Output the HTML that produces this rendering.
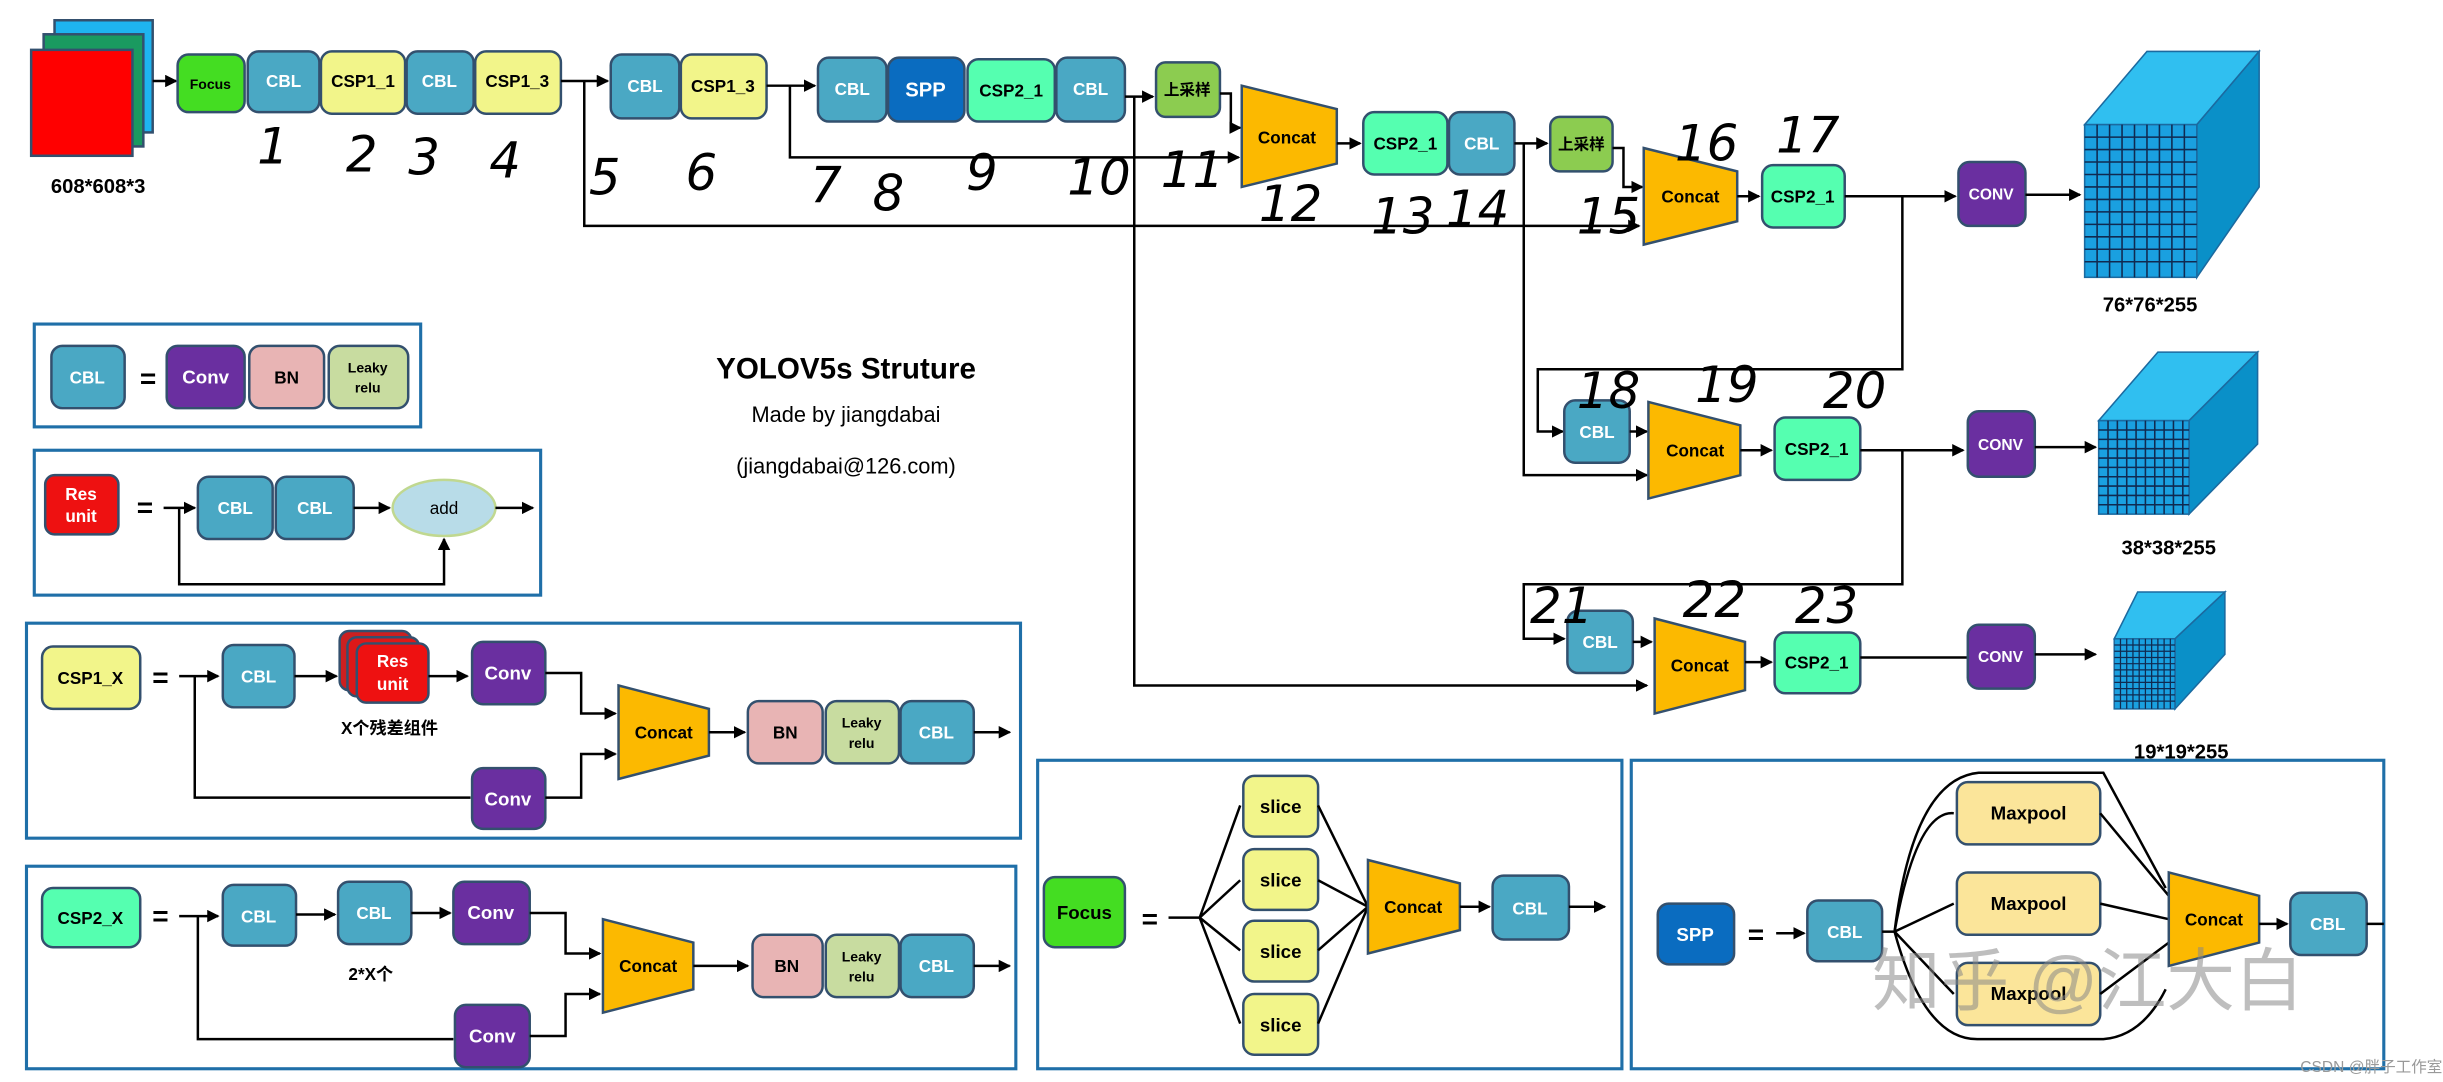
<!DOCTYPE html>
<html><head><meta charset="utf-8"><style>
html,body{margin:0;padding:0;background:#fff}
svg{display:block}
text{font-family:"Liberation Sans","Noto Sans CJK SC",sans-serif}
.bo text{font-weight:bold}
.n{font-weight:normal !important}
.b{stroke:#33506e;stroke-width:1.6}
.l{stroke:#000;stroke-width:1.6;fill:none}
.hw text{font-family:"DejaVu Sans","Liberation Sans",sans-serif;font-style:italic;font-weight:normal;fill:#000;font-size:32px}
</style></head><body>
<svg width="2443" height="1082" viewBox="0 0 1568 694.5" preserveAspectRatio="none" xmlns="http://www.w3.org/2000/svg">
<defs><marker id="a" markerWidth="8" markerHeight="8" refX="7" refY="4" orient="auto" markerUnits="userSpaceOnUse"><path d="M0,0 L8,4 L0,8 z" fill="#000"/></marker></defs>
<g font-size="11" text-anchor="middle" class="bo">
<rect x="35" y="13" width="63" height="72" fill="#1eb4f0" class="b"/>
<rect x="28" y="22" width="64" height="72" fill="#1a9a60" class="b"/>
<rect x="20" y="32" width="65" height="68" fill="#ff0000" class="b"/>
<text x="63" y="124" font-size="13">608*608*3</text>
<path class="l" d="M98,52 H113" marker-end="url(#a)"/>
<rect x="114" y="35" width="43" height="37" rx="7" fill="#44dd22" class="b"/><text x="135" y="57" font-size="9">Focus</text>
<rect x="159" y="33" width="46" height="39" rx="7" fill="#4aa8c4" class="b"/><text x="182" y="56" fill="#fff">CBL</text>
<rect x="206" y="33" width="54" height="40" rx="7" fill="#f2f58a" class="b"/><text x="233" y="56">CSP1_1</text>
<rect x="261" y="33" width="43" height="40" rx="7" fill="#4aa8c4" class="b"/><text x="282" y="56" fill="#fff">CBL</text>
<rect x="305" y="33" width="55" height="40" rx="7" fill="#f2f58a" class="b"/><text x="332" y="56">CSP1_3</text>
<path class="l" d="M360,52 H390" marker-end="url(#a)"/>
<path class="l" d="M375,52 V145 H1052" marker-end="url(#a)"/>
<rect x="392" y="35" width="44" height="41" rx="7" fill="#4aa8c4" class="b"/><text x="414" y="59" fill="#fff">CBL</text>
<rect x="437" y="35" width="55" height="41" rx="7" fill="#f2f58a" class="b"/><text x="464" y="59">CSP1_3</text>
<path class="l" d="M492,55 H523" marker-end="url(#a)"/>
<path class="l" d="M507,55 V101 H795" marker-end="url(#a)"/>
<rect x="525" y="37" width="44" height="41" rx="7" fill="#4aa8c4" class="b"/><text x="547" y="61" fill="#fff">CBL</text>
<rect x="570" y="37" width="49" height="41" rx="7" fill="#0a6cc0" class="b"/><text x="594" y="62" fill="#fff" font-size="13">SPP</text>
<rect x="621" y="38" width="56" height="40" rx="7" fill="#55ffb0" class="b"/><text x="649" y="62">CSP2_1</text>
<rect x="678" y="37" width="44" height="41" rx="7" fill="#4aa8c4" class="b"/><text x="700" y="61" fill="#fff">CBL</text>
<path class="l" d="M722,62 H740" marker-end="url(#a)"/>
<path class="l" d="M728,62 V440 H1057" marker-end="url(#a)"/>
<rect x="742" y="40" width="41" height="35" rx="6" fill="#8ccc50" class="b"/><text x="762" y="61" font-size="10">上采样</text>
<path class="l" d="M783,60 H790 V82 H796" marker-end="url(#a)"/>
<path d="M797,55 L858,70 L858,105 L797,120 Z" fill="#fcb900" class="b"/><text x="826" y="92" font-size="11">Concat</text>
<path class="l" d="M858,92 H873" marker-end="url(#a)"/>
<rect x="875" y="72" width="54" height="40" rx="7" fill="#55ffb0" class="b"/><text x="902" y="96">CSP2_1</text>
<rect x="930" y="72" width="42" height="40" rx="7" fill="#4aa8c4" class="b"/><text x="951" y="96" fill="#fff">CBL</text>
<path class="l" d="M972,92 H993" marker-end="url(#a)"/>
<path class="l" d="M978,92 V305 H1057" marker-end="url(#a)"/>
<rect x="995" y="75" width="40" height="35" rx="6" fill="#8ccc50" class="b"/><text x="1015" y="96" font-size="10">上采样</text>
<path class="l" d="M1035,95 H1042 V120 H1054" marker-end="url(#a)"/>
<path d="M1055,95 L1115,110 L1115,142 L1055,157 Z" fill="#fcb900" class="b"/><text x="1085" y="130">Concat</text>
<path class="l" d="M1115,126 H1129" marker-end="url(#a)"/>
<rect x="1131" y="106" width="53" height="40" rx="7" fill="#55ffb0" class="b"/><text x="1157" y="130">CSP2_1</text>
<path class="l" d="M1184,126 H1255" marker-end="url(#a)"/>
<path class="l" d="M1221,126 V237 H987 V277 H1003" marker-end="url(#a)"/>
<rect x="1257" y="104" width="43" height="41" rx="7" fill="#6a2fa0" class="b"/><text x="1278" y="128" fill="#fff" font-size="10">CONV</text>
<path class="l" d="M1300,125 H1335" marker-end="url(#a)"/>
<path d="M1338,80 L1378,33 L1450,33 L1410,80 Z" fill="#30bff0" stroke="#1b6aa0"/>
<path d="M1410,80 L1450,33 L1450,120 L1410,178 Z" fill="#0a90c8" stroke="#1b6aa0"/>
<rect x="1338" y="80" width="72" height="98" fill="#1aa0e0" stroke="#1b6aa0"/>
<g stroke="#102a50" stroke-width="1"><path d="M1338,88H1410M1338,96H1410M1338,104H1410M1338,112H1410M1338,120H1410M1338,128H1410M1338,136H1410M1338,144H1410M1338,152H1410M1338,160H1410M1338,168H1410M1346,80V178M1354,80V178M1362,80V178M1370,80V178M1378,80V178M1386,80V178M1394,80V178M1402,80V178"/></g>
<text x="1380" y="200" font-size="13">76*76*255</text>
<rect x="1004" y="257" width="42" height="40" rx="7" fill="#4aa8c4" class="b"/><text x="1025" y="281" fill="#fff">CBL</text>
<path class="l" d="M1046,277 H1057" marker-end="url(#a)"/>
<path d="M1058,258 L1117,273 L1117,305 L1058,320 Z" fill="#fcb900" class="b"/><text x="1088" y="293">Concat</text>
<path class="l" d="M1117,289 H1137" marker-end="url(#a)"/>
<rect x="1139" y="268" width="55" height="40" rx="7" fill="#55ffb0" class="b"/><text x="1166" y="292">CSP2_1</text>
<path class="l" d="M1194,289 H1260" marker-end="url(#a)"/>
<path class="l" d="M1221,289 V375 H978 V410 H1004" marker-end="url(#a)"/>
<rect x="1263" y="264" width="43" height="42" rx="7" fill="#6a2fa0" class="b"/><text x="1284" y="289" fill="#fff" font-size="10">CONV</text>
<path class="l" d="M1306,287 H1345" marker-end="url(#a)"/>
<path d="M1347,270 L1385,226 L1449,226 L1405,270 Z" fill="#30bff0" stroke="#1b6aa0"/>
<path d="M1405,270 L1449,226 L1449,285 L1405,330 Z" fill="#0a90c8" stroke="#1b6aa0"/>
<rect x="1347" y="270" width="58" height="60" fill="#1aa0e0" stroke="#1b6aa0"/>
<g stroke="#102a50" stroke-width="1"><path d="M1347,276H1405M1347,282H1405M1347,288H1405M1347,294H1405M1347,300H1405M1347,306H1405M1347,312H1405M1347,318H1405M1347,324H1405M1353,270V330M1359,270V330M1365,270V330M1371,270V330M1377,270V330M1383,270V330M1389,270V330M1395,270V330M1401,270V330"/></g>
<text x="1392" y="356" font-size="13">38*38*255</text>
<rect x="1006" y="392" width="42" height="40" rx="7" fill="#4aa8c4" class="b"/><text x="1027" y="416" fill="#fff">CBL</text>
<path class="l" d="M1048,412 H1060" marker-end="url(#a)"/>
<path d="M1062,397 L1120,412 L1120,443 L1062,458 Z" fill="#fcb900" class="b"/><text x="1091" y="431">Concat</text>
<path class="l" d="M1120,425 H1137" marker-end="url(#a)"/>
<rect x="1139" y="406" width="55" height="39" rx="7" fill="#55ffb0" class="b"/><text x="1166" y="429">CSP2_1</text>
<path class="l" d="M1194,422 H1263"/>
<rect x="1263" y="401" width="43" height="41" rx="7" fill="#6a2fa0" class="b"/><text x="1284" y="425" fill="#fff" font-size="10">CONV</text>
<path class="l" d="M1306,420 H1345" marker-end="url(#a)"/>
<path d="M1357,410 L1372,380 L1428,380 L1396,410 Z" fill="#30bff0" stroke="#1b6aa0"/>
<path d="M1396,410 L1428,380 L1428,420 L1396,455 Z" fill="#0a90c8" stroke="#1b6aa0"/>
<rect x="1357" y="410" width="39" height="45" fill="#1aa0e0" stroke="#1b6aa0"/>
<g stroke="#102a50" stroke-width="0.8"><path d="M1357,414H1396M1357,418H1396M1357,422H1396M1357,426H1396M1357,430H1396M1357,434H1396M1357,438H1396M1357,442H1396M1357,446H1396M1357,450H1396M1361,410V455M1365,410V455M1369,410V455M1373,410V455M1377,410V455M1381,410V455M1385,410V455M1389,410V455M1393,410V455"/></g>
<text x="1400" y="487" font-size="13">19*19*255</text>
<text x="543" y="243" font-size="19">YOLOV5s Struture</text>
<text x="543" y="271" font-size="14" class="n">Made by jiangdabai</text>
<text x="543" y="304" font-size="14" class="n">(jiangdabai@126.com)</text>
<rect x="22" y="208" width="248" height="66" fill="none" stroke="#1f6fa8" stroke-width="2"/>
<rect x="33" y="222" width="47" height="40" rx="7" fill="#4aa8c4" class="b"/><text x="56" y="246" fill="#fff">CBL</text>
<text x="95" y="249" font-size="18">=</text>
<rect x="107" y="222" width="50" height="40" rx="7" fill="#6a2fa0" class="b"/><text x="132" y="246" fill="#fff" font-size="12">Conv</text>
<rect x="160" y="222" width="48" height="40" rx="7" fill="#e8b4b4" class="b"/><text x="184" y="246">BN</text>
<rect x="211" y="222" width="51" height="40" rx="7" fill="#c8dca0" class="b"/><text x="236" y="239" font-size="9">Leaky</text><text x="236" y="252" font-size="9">relu</text>
<rect x="22" y="289" width="325" height="93" fill="none" stroke="#1f6fa8" stroke-width="2"/>
<rect x="29" y="305" width="47" height="38" rx="6" fill="#ee1111" class="b"/><text x="52" y="321" fill="#fff">Res</text><text x="52" y="335" fill="#fff">unit</text>
<text x="93" y="332" font-size="18">=</text>
<path class="l" d="M105,326 H125" marker-end="url(#a)"/>
<path class="l" d="M115,326 V375 H285 V346" marker-end="url(#a)"/>
<rect x="127" y="306" width="48" height="40" rx="7" fill="#4aa8c4" class="b"/><text x="151" y="330" fill="#fff">CBL</text>
<rect x="177" y="306" width="50" height="40" rx="7" fill="#4aa8c4" class="b"/><text x="202" y="330" fill="#fff">CBL</text>
<path class="l" d="M227,326 H250" marker-end="url(#a)"/>
<ellipse cx="285" cy="326" rx="33" ry="18" fill="#b8dce8" stroke="#c0d890" stroke-width="1.6"/><text x="285" y="330" class="n">add</text>
<path class="l" d="M318,326 H342" marker-end="url(#a)"/>
<rect x="17" y="400" width="638" height="138" fill="none" stroke="#1f6fa8" stroke-width="2"/>
<rect x="27" y="415" width="63" height="40" rx="7" fill="#f2f58a" class="b"/><text x="58" y="439">CSP1_X</text>
<text x="103" y="441" font-size="18">=</text>
<path class="l" d="M115,434 H140" marker-end="url(#a)"/>
<path class="l" d="M125,434 V512 H302"/>
<rect x="143" y="414" width="46" height="40" rx="7" fill="#4aa8c4" class="b"/><text x="166" y="438" fill="#fff">CBL</text>
<path class="l" d="M189,434 H216" marker-end="url(#a)"/>
<rect x="218" y="405" width="46" height="38" rx="6" fill="#cc2020" class="b"/>
<rect x="223" y="409" width="46" height="38" rx="6" fill="#dd1818" class="b"/>
<rect x="229" y="413" width="46" height="38" rx="6" fill="#ee1111" class="b"/><text x="252" y="428" fill="#fff">Res</text><text x="252" y="443" fill="#fff">unit</text>
<path class="l" d="M275,434 H300" marker-end="url(#a)"/>
<text x="250" y="471" font-size="11">X个残差组件</text>
<rect x="303" y="412" width="47" height="40" rx="7" fill="#6a2fa0" class="b"/><text x="326" y="436" fill="#fff" font-size="12">Conv</text>
<rect x="303" y="493" width="47" height="39" rx="7" fill="#6a2fa0" class="b"/><text x="326" y="517" fill="#fff" font-size="12">Conv</text>
<path class="l" d="M350,432 H373 V458 H395" marker-end="url(#a)"/>
<path class="l" d="M350,512 H373 V484 H395" marker-end="url(#a)"/>
<path d="M397,440 L455,455 L455,485 L397,500 Z" fill="#fcb900" class="b"/><text x="426" y="474">Concat</text>
<path class="l" d="M455,470 H478" marker-end="url(#a)"/>
<rect x="480" y="450" width="48" height="40" rx="7" fill="#e8b4b4" class="b"/><text x="504" y="474">BN</text>
<rect x="530" y="450" width="47" height="40" rx="7" fill="#c8dca0" class="b"/><text x="553" y="467" font-size="9">Leaky</text><text x="553" y="480" font-size="9">relu</text>
<rect x="578" y="450" width="47" height="40" rx="7" fill="#4aa8c4" class="b"/><text x="601" y="474" fill="#fff">CBL</text>
<path class="l" d="M625,470 H648" marker-end="url(#a)"/>
<rect x="17" y="556" width="635" height="130" fill="none" stroke="#1f6fa8" stroke-width="2"/>
<rect x="27" y="570" width="63" height="38" rx="7" fill="#55ffb0" class="b"/><text x="58" y="593">CSP2_X</text>
<text x="103" y="594" font-size="18">=</text>
<path class="l" d="M115,588 H140" marker-end="url(#a)"/>
<path class="l" d="M127,588 V667 H291"/>
<rect x="143" y="568" width="47" height="39" rx="7" fill="#4aa8c4" class="b"/><text x="166" y="592" fill="#fff">CBL</text>
<path class="l" d="M190,587 H215" marker-end="url(#a)"/>
<rect x="217" y="566" width="47" height="40" rx="7" fill="#4aa8c4" class="b"/><text x="240" y="590" fill="#fff">CBL</text>
<path class="l" d="M264,586 H289" marker-end="url(#a)"/>
<text x="238" y="629" font-size="11">2*X个</text>
<rect x="291" y="566" width="49" height="40" rx="7" fill="#6a2fa0" class="b"/><text x="315" y="590" fill="#fff" font-size="12">Conv</text>
<rect x="292" y="645" width="48" height="40" rx="7" fill="#6a2fa0" class="b"/><text x="316" y="669" fill="#fff" font-size="12">Conv</text>
<path class="l" d="M340,586 H363 V612 H385" marker-end="url(#a)"/>
<path class="l" d="M340,665 H363 V638 H385" marker-end="url(#a)"/>
<path d="M387,590 L445,605 L445,635 L387,650 Z" fill="#fcb900" class="b"/><text x="416" y="624">Concat</text>
<path class="l" d="M445,620 H480" marker-end="url(#a)"/>
<rect x="483" y="600" width="45" height="40" rx="7" fill="#e8b4b4" class="b"/><text x="505" y="624">BN</text>
<rect x="530" y="600" width="47" height="40" rx="7" fill="#c8dca0" class="b"/><text x="553" y="617" font-size="9">Leaky</text><text x="553" y="630" font-size="9">relu</text>
<rect x="578" y="600" width="47" height="40" rx="7" fill="#4aa8c4" class="b"/><text x="601" y="624" fill="#fff">CBL</text>
<path class="l" d="M625,620 H648" marker-end="url(#a)"/>
<rect x="666" y="488" width="375" height="198" fill="none" stroke="#1f6fa8" stroke-width="2"/>
<rect x="670" y="563" width="52" height="45" rx="7" fill="#44dd22" class="b"/><text x="696" y="590" font-size="12">Focus</text>
<text x="738" y="596" font-size="18">=</text>
<path class="l" d="M750,589 H770"/>
<path class="l" d="M770,589 L796,517 M770,589 L796,565 M770,589 L796,610 M770,589 L796,657"/>
<rect x="798" y="498" width="48" height="39" rx="7" fill="#f2f58a" class="b"/><text x="822" y="522" font-size="12">slice</text>
<rect x="798" y="545" width="48" height="39" rx="7" fill="#f2f58a" class="b"/><text x="822" y="569" font-size="12">slice</text>
<rect x="798" y="591" width="48" height="39" rx="7" fill="#f2f58a" class="b"/><text x="822" y="615" font-size="12">slice</text>
<rect x="798" y="638" width="48" height="39" rx="7" fill="#f2f58a" class="b"/><text x="822" y="662" font-size="12">slice</text>
<path class="l" d="M846,517 L878,582 M846,565 L878,582 M846,610 L878,582 M846,657 L878,582"/>
<path d="M878,552 L937,567 L937,597 L878,612 Z" fill="#fcb900" class="b"/><text x="907" y="586">Concat</text>
<path class="l" d="M937,582 H956" marker-end="url(#a)"/>
<rect x="958" y="562" width="49" height="41" rx="7" fill="#4aa8c4" class="b"/><text x="982" y="587" fill="#fff">CBL</text>
<path class="l" d="M1007,582 H1030" marker-end="url(#a)"/>
<rect x="1047" y="488" width="483" height="198" fill="none" stroke="#1f6fa8" stroke-width="2"/>
<rect x="1064" y="580" width="49" height="39" rx="7" fill="#0a6cc0" class="b"/><text x="1088" y="604" fill="#fff" font-size="12">SPP</text>
<text x="1127" y="606" font-size="18">=</text>
<path class="l" d="M1140,599 H1158" marker-end="url(#a)"/>
<rect x="1160" y="578" width="48" height="39" rx="7" fill="#4aa8c4" class="b"/><text x="1184" y="602" fill="#fff">CBL</text>
<path class="l" d="M1208,598 H1216"/>
<path class="l" d="M1216,598 Q1230,520 1254,522 M1216,598 L1254,580 M1216,598 L1254,638 M1216,598 Q1235,668 1270,667 H1350 Q1375,665 1390,635"/>
<path class="l" d="M1216,598 Q1228,500 1270,496 H1350 L1390,570"/>
<rect x="1256" y="502" width="92" height="40" rx="7" fill="#fbe59a" class="b"/><text x="1302" y="526" font-size="12">Maxpool</text>
<rect x="1256" y="560" width="92" height="40" rx="7" fill="#fbe59a" class="b"/><text x="1302" y="584" font-size="12">Maxpool</text>
<rect x="1256" y="618" width="92" height="40" rx="7" fill="#fbe59a" class="b"/><text x="1302" y="642" font-size="12">Maxpool</text>
<path class="l" d="M1348,522 L1392,575 M1348,580 L1392,590 M1348,638 L1392,605"/>
<path d="M1392,560 L1450,575 L1450,605 L1392,620 Z" fill="#fcb900" class="b"/><text x="1421" y="594">Concat</text>
<path class="l" d="M1450,593 H1468" marker-end="url(#a)"/>
<rect x="1470" y="573" width="49" height="40" rx="7" fill="#4aa8c4" class="b"/><text x="1494" y="597" fill="#fff">CBL</text>
<path class="l" d="M1519,593 H1530"/>
<text x="1340" y="645" font-size="44" class="n" fill="#888" fill-opacity="0.55">知乎 @江大白</text>
<text x="1522" y="688" font-size="10" class="n" fill="#999">CSDN @胖子工作室</text>
</g>
<g class="hw">
<text x="165" y="105">1</text><text x="222" y="110">2</text><text x="262" y="112">3</text><text x="314" y="114">4</text>
<text x="378" y="125">5</text><text x="440" y="122">6</text><text x="520" y="130" font-size="44" font-weight="bold">7</text><text x="560" y="135" font-size="48" font-weight="bold">8</text>
<text x="620" y="122">9</text><text x="685" y="125">10</text><text x="745" y="120">11</text>
<text x="808" y="142">12</text><text x="880" y="150">13</text><text x="928" y="145">14</text><text x="1012" y="150">15</text>
<text x="1075" y="103">16</text><text x="1140" y="98">17</text>
<text x="1012" y="262">18</text><text x="1088" y="258">19</text><text x="1170" y="262">20</text>
<text x="982" y="400">21</text><text x="1080" y="396">22</text><text x="1152" y="400">23</text>
</g>
</svg>
</body></html>
